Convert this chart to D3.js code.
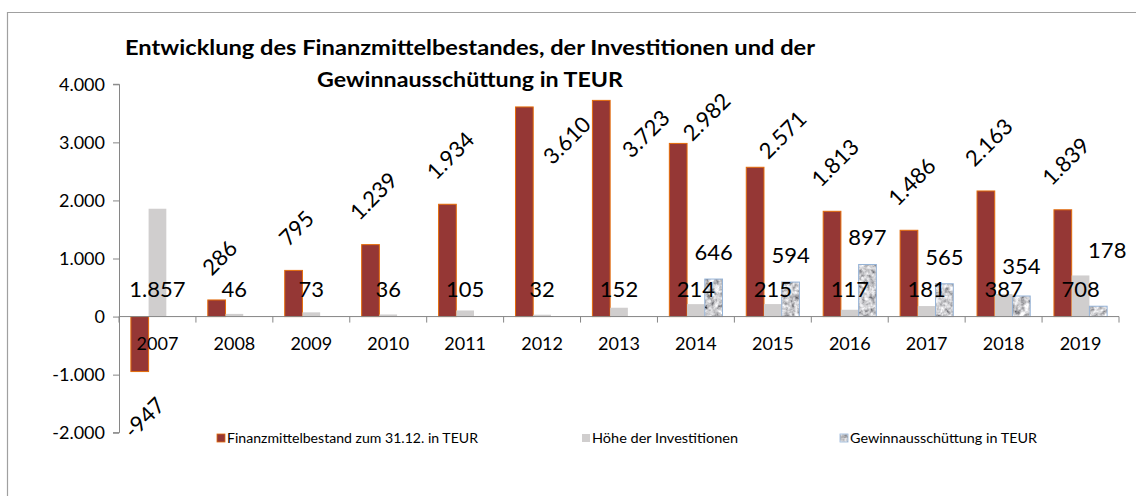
<!DOCTYPE html>
<html>
<head>
<meta charset="utf-8">
<script src="https://cdn.jsdelivr.net/npm/d3@7/dist/d3.min.js"></script>
<style>
  html, body { margin: 0; padding: 0; background: #fff; }
  svg { display: block; }
  text { font-family: Lato, "Open Sans", sans-serif; fill: #000; }
</style>
</head>
<body>
<svg id="chart" width="1136" height="496"></svg>
<script>
// ---- data ----
const years = ["2007","2008","2009","2010","2011","2012","2013","2014","2015","2016","2017","2018","2019"];
const finanzmittel = [-947, 286, 795, 1239, 1934, 3610, 3723, 2982, 2571, 1813, 1486, 2163, 1839];
const investitionen = [1857, 46, 73, 36, 105, 32, 152, 214, 215, 117, 181, 387, 708];
const ausschuettung = [null, null, null, null, null, null, null, 646, 594, 897, 565, 354, 178];
const yTicks = [-2000, -1000, 0, 1000, 2000, 3000, 4000];
const seriesNames = ["Finanzmittelbestand zum 31.12. in TEUR", "Höhe der Investitionen", "Gewinnausschüttung in TEUR"];
const titleLines = ["Entwicklung des Finanzmittelbestandes, der Investitionen und der", "Gewinnausschüttung in TEUR"];

(function () {
// ---- setup ----
const svg = d3.select("#chart");
const de = d3.formatLocale({decimal: ",", thousands: ".", grouping: [3], currency: ["", " €"], minus: "-"});
const fmt = de.format(",.0f");

const pLeft = 119, pRight = 1119, pTop = 84.3, pBottom = 432.7;
const x = d3.scaleBand().domain(years).range([pLeft, pRight]).paddingInner(0).paddingOuter(0);
const inner = d3.scaleBand().domain([0, 1, 2]).range([0, x.bandwidth()]).paddingOuter(0.67).paddingInner(0);
const y = d3.scaleLinear().domain([-2000, 4000]).range([pBottom, pTop]);

const colors = { red: "#953735", redStroke: "#E46C0A", grey: "#D0CECE", blueStroke: "#95B3D7" };

// texture filter for series 3
const defs = svg.append("defs");
const filt = defs.append("filter").attr("id", "tex").attr("x", 0).attr("y", 0).attr("width", 1).attr("height", 1);
filt.append("feTurbulence").attr("type", "fractalNoise").attr("baseFrequency", 0.2).attr("numOctaves", 3).attr("seed", 4).attr("result", "n");
filt.append("feColorMatrix").attr("in", "n").attr("type", "matrix")
  .attr("values", "1.1 1.1 0 0 -0.5  1.1 1.1 0 0 -0.5  1.1 1.1 0 0 -0.48  0 0 0 0 1").attr("result", "g");
filt.append("feComposite").attr("in", "g").attr("in2", "SourceGraphic").attr("operator", "in");

// outer frame (only left/top visible)
svg.append("path").attr("d", "M7.5,496 V12.5 H1136").attr("fill", "none").attr("stroke", "#A0A0A0").attr("stroke-width", 1.2);

// title
const title = svg.append("g");
title.append("text").attr("x", 125).attr("y", 55).attr("font-size", 21).attr("font-weight", 700)
  .attr("textLength", 690).attr("lengthAdjust", "spacingAndGlyphs").text(titleLines[0]);
title.append("text").attr("x", 317).attr("y", 86.5).attr("font-size", 21).attr("font-weight", 700)
  .attr("textLength", 306).attr("lengthAdjust", "spacingAndGlyphs").text(titleLines[1]);

// y axis
const yAxis = d3.axisLeft(y).tickValues(yTicks).tickSize(6).tickPadding(8).tickFormat(fmt);
const gy = svg.append("g").attr("transform", `translate(${pLeft},0)`).call(yAxis);
gy.select(".domain").attr("stroke", "#868686").attr("d", `M-6,${y(4000)}H0.5V${y(-2000)}H-6`);
gy.selectAll(".tick line").attr("stroke", "#868686");
gy.selectAll(".tick text").attr("font-size", 18).attr("font-family", "Lato, sans-serif").attr("fill", "#000");

// bars
const barW = inner.bandwidth();
// series 1
svg.append("g").selectAll("rect").data(finanzmittel).join("rect")
  .attr("x", (d, i) => x(years[i]) + inner(0))
  .attr("width", barW)
  .attr("y", d => y(Math.max(0, d)))
  .attr("height", d => Math.abs(y(d) - y(0)))
  .attr("fill", colors.red).attr("stroke", colors.redStroke).attr("stroke-width", 1);
// series 2
svg.append("g").selectAll("rect").data(investitionen).join("rect")
  .attr("x", (d, i) => x(years[i]) + inner(1))
  .attr("width", barW)
  .attr("y", d => y(Math.max(0, d)))
  .attr("height", d => Math.abs(y(d) - y(0)))
  .attr("fill", colors.grey);
// series 3 (textured)
const s3 = ausschuettung.map((v, i) => ({v, i})).filter(d => d.v != null);
const g3 = svg.append("g");
g3.selectAll("rect.fill").data(s3).join("rect").attr("class", "fill")
  .attr("x", d => x(years[d.i]) + inner(2)).attr("width", barW)
  .attr("y", d => y(d.v)).attr("height", d => y(0) - y(d.v))
  .attr("fill", "#999").attr("filter", "url(#tex)");
g3.selectAll("rect.edge").data(s3).join("rect").attr("class", "edge")
  .attr("x", d => x(years[d.i]) + inner(2)).attr("width", barW)
  .attr("y", d => y(d.v)).attr("height", d => y(0) - y(d.v))
  .attr("fill", "none").attr("stroke", colors.blueStroke).attr("stroke-width", 1);

// x axis at zero (drawn over bars)
const x0 = y(0);
const gx = svg.append("g");
gx.append("line").attr("x1", pLeft).attr("x2", pRight).attr("y1", x0).attr("y2", x0).attr("stroke", "#868686");
gx.selectAll("line.tk").data(years.concat(["end"])).join("line").attr("class", "tk")
  .attr("x1", (d, i) => pLeft + i * x.bandwidth()).attr("x2", (d, i) => pLeft + i * x.bandwidth())
  .attr("y1", x0).attr("y2", x0 + 6).attr("stroke", "#868686");
gx.selectAll("text").data(years).join("text")
  .attr("x", d => x(d) + x.bandwidth() / 2).attr("y", 350).attr("text-anchor", "middle")
  .attr("font-size", 18).text(d => d);

// labels series 1 (rotated)
const redNudge = {"2012": [42, 33], "2013": [44, 33], "2014": [28, -27], "2015": [27, -33]};
const lab1 = svg.append("g");
finanzmittel.forEach((v, i) => {
  const cx = x(years[i]) + inner(0) + barW / 2;
  const t = lab1.append("text").attr("font-size", 22).attr("text-anchor", "middle")
    .attr("dominant-baseline", "central").text(fmt(v));
  const bb = t.node().getBBox();
  const half = (bb.width + bb.height * 0.75) * Math.SQRT1_2 / 2;
  let px, py;
  if (redNudge[years[i]]) {
    px = cx + redNudge[years[i]][0];
    py = y(v) + redNudge[years[i]][1];
  } else if (v >= 0) {
    px = cx + 2.5; py = y(v) - 22 - half;
  } else {
    px = cx + 4; py = y(v) + 22 + half;
  }
  t.attr("transform", `translate(${px},${py}) rotate(-45)`);
});

// labels series 2 (inside base)
svg.append("g").selectAll("text").data(investitionen).join("text")
  .attr("x", (d, i) => x(years[i]) + inner(1) + barW / 2)
  .attr("y", y(0) - 20).attr("text-anchor", "middle").attr("font-size", 22)
  .text(d => fmt(d));

// labels series 3
const s3Nudge = {"2018": [0, -3], "2019": [9, -29]};
svg.append("g").selectAll("text").data(s3).join("text")
  .attr("x", d => x(years[d.i]) + inner(2) + barW / 2 + (s3Nudge[years[d.i]] ? s3Nudge[years[d.i]][0] : 0))
  .attr("y", d => y(d.v) - 19 + (s3Nudge[years[d.i]] ? s3Nudge[years[d.i]][1] : 0))
  .attr("text-anchor", "middle").attr("font-size", 22)
  .text(d => fmt(d.v));

// legend
const legend = svg.append("g");
const legX = [217, 582, 840];
const legW = [251, 146, 187];
seriesNames.forEach((n, i) => {
  const lx = legX[i];
  if (i === 0) legend.append("rect").attr("x", lx).attr("y", 434).attr("width", 8).attr("height", 8).attr("fill", colors.red).attr("stroke", colors.redStroke).attr("stroke-width", 0.8);
  if (i === 1) legend.append("rect").attr("x", lx).attr("y", 434).attr("width", 8).attr("height", 8).attr("fill", colors.grey);
  if (i === 2) {
    legend.append("rect").attr("x", lx).attr("y", 434).attr("width", 8).attr("height", 8).attr("fill", "#999").attr("filter", "url(#tex)");
    legend.append("rect").attr("x", lx).attr("y", 434).attr("width", 8).attr("height", 8).attr("fill", "none").attr("stroke", colors.blueStroke).attr("stroke-width", 0.8);
  }
  legend.append("text").attr("x", lx + 10).attr("y", 442.5).attr("font-size", 12.5)
    .attr("textLength", legW[i]).attr("lengthAdjust", "spacingAndGlyphs").text(n);
});
})();
</script>
</body>
</html>
